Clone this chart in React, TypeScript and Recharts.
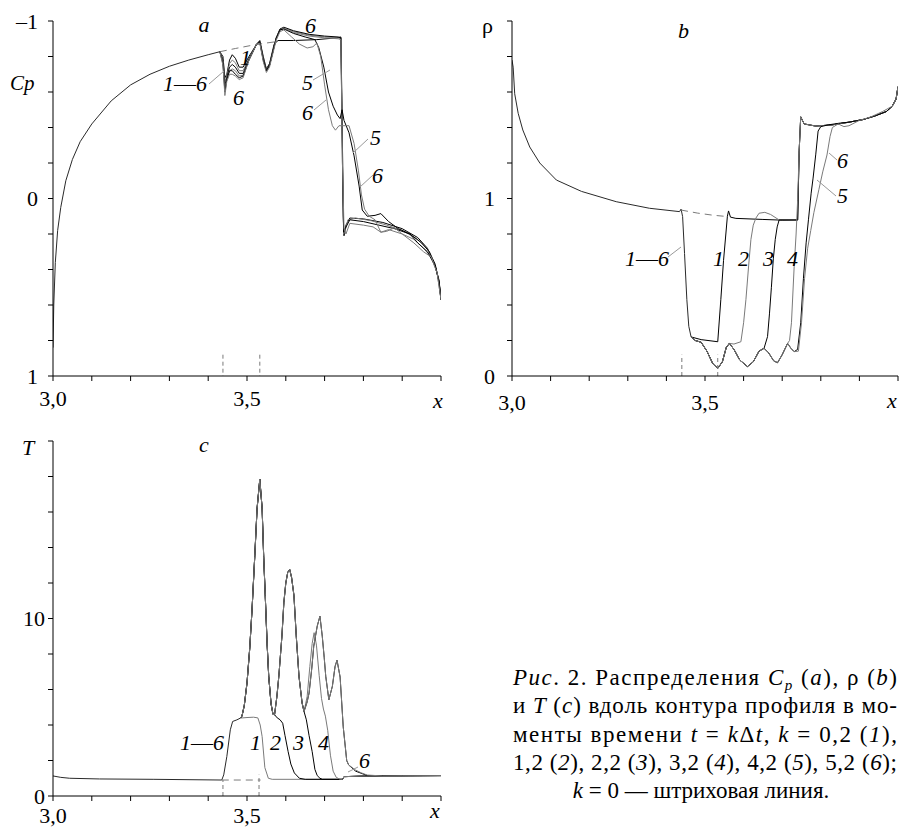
import React from 'react';
import { LineChart, Line, XAxis, YAxis } from 'recharts';

type P = [number, number][];

// ---------- common x axis ----------
const xTicks = [3.0, 3.1, 3.2, 3.3, 3.4, 3.5, 3.6, 3.7, 3.8, 3.9, 4.0];
const xTickLabels: Record<string, string> = { '3': '3,0', '3.5': '3,5' };

// ---------- panel a : Cp ----------
const cpTicks = [-1, -0.8, -0.6, -0.4, -0.2, 0, 0.2, 0.4, 0.6, 0.8, 1];
const cpTickLabels: Record<string, string> = { '-1': '\u20131', '0': '0', '1': '1' };
const cpCommon: P = [[3.0,0.84],[3.002,0.6],[3.006,0.36],[3.012,0.18],[3.02,0.05],[3.033,-0.1],[3.05,-0.22],[3.07,-0.32],[3.1,-0.42],[3.15,-0.55],[3.2,-0.64],[3.25,-0.7],[3.3,-0.745],[3.35,-0.78],[3.4,-0.81],[3.43,-0.827]];
const cpK0: P = [[3.43,-0.827],[3.47,-0.845],[3.51,-0.862],[3.55,-0.876],[3.58,-0.885]];
const cp1: P = [[3.43,-0.827],[3.438,-0.8],[3.443,-0.68],[3.448,-0.7],[3.455,-0.78],[3.462,-0.81],[3.47,-0.79],[3.48,-0.74],[3.49,-0.74],[3.505,-0.8],[3.525,-0.87],[3.533,-0.89],[3.542,-0.8],[3.55,-0.73],[3.558,-0.76],[3.57,-0.87],[3.58,-0.89],[3.62,-0.89],[3.68,-0.895],[3.73,-0.905],[3.742,-0.91],[3.745,-0.5],[3.748,0.1],[3.75,0.21],[3.755,0.15],[3.765,0.11],[3.8,0.115],[3.85,0.135],[3.9,0.17],[3.94,0.22],[3.965,0.28],[3.985,0.38],[3.995,0.46],[4.0,0.57]];
const cp2: P = [[3.43,-0.827],[3.438,-0.79],[3.443,-0.66],[3.448,-0.69],[3.455,-0.76],[3.462,-0.78],[3.47,-0.765],[3.48,-0.72],[3.49,-0.72],[3.505,-0.79],[3.525,-0.87],[3.533,-0.885],[3.542,-0.79],[3.55,-0.725],[3.558,-0.75],[3.575,-0.9],[3.585,-0.95],[3.595,-0.96],[3.62,-0.94],[3.66,-0.92],[3.7,-0.91],[3.735,-0.905],[3.742,-0.9],[3.746,-0.3],[3.749,0.2],[3.752,0.19],[3.76,0.12],[3.78,0.11],[3.82,0.125],[3.86,0.15],[3.9,0.18],[3.94,0.23],[3.965,0.285],[3.985,0.38],[3.995,0.47],[4.0,0.57]];
const cp3: P = [[3.43,-0.827],[3.438,-0.78],[3.443,-0.64],[3.448,-0.68],[3.455,-0.74],[3.462,-0.755],[3.47,-0.74],[3.48,-0.705],[3.49,-0.705],[3.505,-0.785],[3.525,-0.87],[3.533,-0.885],[3.542,-0.785],[3.55,-0.722],[3.558,-0.75],[3.575,-0.905],[3.585,-0.955],[3.595,-0.965],[3.62,-0.945],[3.66,-0.925],[3.7,-0.915],[3.735,-0.91],[3.742,-0.905],[3.746,-0.2],[3.749,0.19],[3.753,0.17],[3.765,0.12],[3.8,0.13],[3.84,0.15],[3.88,0.17],[3.92,0.2],[3.95,0.25],[3.97,0.3],[3.985,0.37],[3.995,0.47],[4.0,0.57]];
const cp4: P = [[3.43,-0.827],[3.438,-0.77],[3.443,-0.62],[3.448,-0.67],[3.455,-0.72],[3.462,-0.73],[3.47,-0.72],[3.48,-0.69],[3.49,-0.695],[3.505,-0.78],[3.525,-0.87],[3.533,-0.88],[3.542,-0.78],[3.55,-0.72],[3.558,-0.75],[3.575,-0.9],[3.585,-0.95],[3.595,-0.96],[3.62,-0.935],[3.66,-0.915],[3.7,-0.905],[3.735,-0.9],[3.742,-0.895],[3.746,-0.2],[3.75,0.17],[3.755,0.2],[3.765,0.14],[3.8,0.15],[3.825,0.16],[3.845,0.19],[3.865,0.175],[3.9,0.2],[3.93,0.23],[3.955,0.28],[3.975,0.33],[3.99,0.42],[4.0,0.57]];
const cp5: P = [[3.43,-0.827],[3.438,-0.76],[3.443,-0.6],[3.448,-0.67],[3.455,-0.72],[3.462,-0.72],[3.47,-0.7],[3.48,-0.68],[3.49,-0.69],[3.505,-0.78],[3.525,-0.87],[3.533,-0.88],[3.542,-0.78],[3.55,-0.72],[3.558,-0.75],[3.575,-0.9],[3.585,-0.95],[3.595,-0.955],[3.62,-0.93],[3.65,-0.91],[3.675,-0.895],[3.685,-0.85],[3.698,-0.74],[3.71,-0.6],[3.722,-0.52],[3.733,-0.47],[3.74,-0.45],[3.745,-0.5],[3.75,-0.44],[3.763,-0.37],[3.776,-0.24],[3.789,-0.07],[3.797,0.065],[3.81,0.1],[3.83,0.095],[3.845,0.085],[3.865,0.13],[3.89,0.17],[3.92,0.2],[3.94,0.25],[3.965,0.3],[3.985,0.38],[3.995,0.47],[4.0,0.57]];
const cp6: P = [[3.43,-0.827],[3.438,-0.75],[3.443,-0.58],[3.448,-0.66],[3.455,-0.7],[3.462,-0.7],[3.47,-0.69],[3.48,-0.67],[3.49,-0.68],[3.505,-0.78],[3.525,-0.87],[3.533,-0.875],[3.542,-0.77],[3.55,-0.71],[3.558,-0.74],[3.575,-0.89],[3.585,-0.94],[3.595,-0.95],[3.615,-0.91],[3.635,-0.87],[3.655,-0.848],[3.67,-0.855],[3.68,-0.876],[3.69,-0.8],[3.7,-0.64],[3.71,-0.5],[3.72,-0.41],[3.728,-0.385],[3.737,-0.41],[3.75,-0.41],[3.763,-0.41],[3.776,-0.31],[3.787,-0.16],[3.795,-0.02],[3.803,0.06],[3.815,0.1],[3.83,0.12],[3.845,0.19],[3.86,0.185],[3.88,0.165],[3.9,0.2],[3.93,0.25],[3.955,0.3],[3.975,0.33],[3.99,0.42],[4.0,0.57]];
const cpMarkL: P = [[3.438,0.88],[3.438,1]];
const cpMarkR: P = [[3.533,0.88],[3.533,1]];

// ---------- panel b : rho ----------
const rhoTicks = [0, 0.2, 0.4, 0.6, 0.8, 1, 1.2, 1.4, 1.6, 1.8, 2];
const rhoTickLabels: Record<string, string> = { '0': '0', '1': '1' };
const rhoCommon: P = [[3.0,1.78],[3.003,1.74],[3.007,1.59],[3.016,1.48],[3.028,1.386],[3.046,1.29],[3.072,1.2],[3.115,1.104],[3.18,1.04],[3.27,0.982],[3.356,0.945],[3.434,0.926],[3.438,0.94],[3.442,0.898],[3.447,0.69],[3.453,0.43],[3.458,0.28],[3.464,0.22]];
const rhoK0: P = [[3.438,0.935],[3.48,0.918],[3.52,0.906],[3.559,0.898]];
const rhoTail: P = [[3.744,1.27],[3.748,1.46],[3.757,1.42],[3.787,1.408],[3.83,1.415],[3.873,1.43],[3.91,1.445],[3.94,1.465],[3.97,1.49],[3.985,1.52],[3.995,1.56],[4.0,1.63]];
const rho1Head: P = [[3.464,0.22],[3.49,0.205],[3.533,0.193],[3.541,0.43],[3.548,0.65],[3.554,0.8],[3.558,0.9],[3.561,0.93],[3.566,0.895],[3.58,0.888],[3.65,0.882],[3.7,0.878],[3.74,0.879]];
const rhoOscA: P = [[3.464,0.22],[3.475,0.2],[3.49,0.19],[3.505,0.14],[3.52,0.07],[3.533,0.043],[3.545,0.08],[3.555,0.16],[3.563,0.184]];
const rho2Mid: P = [[3.575,0.18],[3.593,0.193],[3.6,0.3],[3.606,0.43],[3.613,0.62],[3.619,0.77],[3.625,0.85],[3.632,0.89],[3.64,0.917],[3.655,0.922],[3.67,0.91],[3.69,0.882],[3.74,0.879]];
const rhoOscB: P = [[3.575,0.15],[3.59,0.09],[3.61,0.053],[3.625,0.08],[3.64,0.14],[3.653,0.156]];
const rho3Mid: P = [[3.662,0.222],[3.667,0.35],[3.672,0.5],[3.677,0.66],[3.682,0.77],[3.687,0.84],[3.692,0.879],[3.74,0.879]];
const rhoOscC: P = [[3.665,0.13],[3.678,0.085],[3.688,0.075],[3.7,0.12],[3.714,0.184]];
const rho4Mid: P = [[3.719,0.2],[3.724,0.3],[3.731,0.616],[3.736,0.8],[3.74,0.99]];
const rhoOscD: P = [[3.723,0.155],[3.731,0.137]];
const rho5Tail: P = [[3.74,0.15],[3.748,0.3],[3.755,0.55],[3.762,0.75],[3.768,0.88],[3.775,1.03],[3.78,1.115],[3.787,1.25],[3.793,1.38],[3.8,1.405],[3.82,1.415],[3.85,1.425],[3.873,1.43],[3.91,1.445],[3.94,1.465],[3.97,1.49],[3.985,1.52],[3.995,1.56],[4.0,1.63]];
const rho6Tail: P = [[3.742,0.14],[3.75,0.3],[3.758,0.55],[3.766,0.72],[3.774,0.82],[3.782,0.92],[3.795,1.05],[3.805,1.15],[3.816,1.245],[3.824,1.35],[3.83,1.4],[3.845,1.42],[3.86,1.405],[3.873,1.41],[3.9,1.44],[3.93,1.46],[3.96,1.49],[3.985,1.52],[3.995,1.56],[4.0,1.63]];
const rhoMarkL: P = [[3.44,0],[3.44,0.12]];
const rhoMarkR: P = [[3.533,0],[3.533,0.12]];

// ---------- panel c : T ----------
const tTicks = [0, 2, 4, 6, 8, 10, 12, 14, 16, 18, 20];
const tTickLabels: Record<string, string> = { '0': '0', '10': '10' };
const tCommon: P = [[3.0,1.13],[3.02,1.05],[3.043,1.0],[3.12,0.96],[3.26,0.94],[3.435,0.9],[3.44,1.19],[3.448,2.22],[3.457,3.73],[3.463,4.2],[3.474,4.29],[3.483,4.39]];
const tK0: P = [[3.435,0.9],[3.535,0.9]];
const tTail: P = [[3.746,0.94],[3.75,1.09],[3.81,1.13],[3.9,1.14],[4.0,1.15]];
const t1Head: P = [[3.483,4.39],[3.5,4.42],[3.517,4.44],[3.528,4.4],[3.534,4.0],[3.539,3.35],[3.546,1.6],[3.555,1.0],[3.565,0.94],[3.65,0.94]];
const tPeak1: P = [[3.483,4.39],[3.487,4.5],[3.493,5.1],[3.5,6.37],[3.507,8.3],[3.513,10.5],[3.52,13.5],[3.526,16.2],[3.533,17.85],[3.539,16.2],[3.543,13.5],[3.547,11.3],[3.552,8.5],[3.556,6.74],[3.562,5.2],[3.567,4.6],[3.571,4.58]];
const t2Mid: P = [[3.578,4.4],[3.585,4.3],[3.592,4.1],[3.598,3.4],[3.606,2.5],[3.613,1.8],[3.622,1.3],[3.635,1.0],[3.65,0.94]];
const tPeak2: P = [[3.577,5.6],[3.582,6.74],[3.59,9.0],[3.595,10.9],[3.6,12.0],[3.605,12.6],[3.61,12.77],[3.615,12.3],[3.621,11.3],[3.627,9.0],[3.634,6.74],[3.642,5.24],[3.647,4.76]];
const t3Mid: P = [[3.653,4.29],[3.66,3.4],[3.668,2.5],[3.675,1.5],[3.681,1.15],[3.688,1.0],[3.694,0.94]];
const t4Mid: P = [[3.655,5.6],[3.662,7.3],[3.668,8.6],[3.673,9.2],[3.679,8.5],[3.686,6.8],[3.692,5.5],[3.697,4.9],[3.702,4.5],[3.708,3.7],[3.715,2.3],[3.722,1.4],[3.73,1.05],[3.74,0.94]];
const tPeak3: P = [[3.655,5.3],[3.66,5.8],[3.667,7.2],[3.672,8.44],[3.681,9.57],[3.688,10.13],[3.694,9.0],[3.699,7.8],[3.703,6.74],[3.711,5.42]];
const tPeak4: P = [[3.72,6.18],[3.727,7.3],[3.732,7.65],[3.74,6.7],[3.748,3.9],[3.757,2.0],[3.762,1.75]];
const t5Tail: P = [[3.78,1.4],[3.81,1.15],[3.9,1.14],[4.0,1.15]];
const t6Tail: P = [[3.78,1.46],[3.795,1.3],[3.81,1.18],[3.85,1.13],[3.9,1.14],[4.0,1.15]];
const tMarkL: P = [[3.438,0],[3.438,0.9]];
const tMarkR: P = [[3.531,0],[3.531,1.2]];

// ---------- drawing ----------
const BLACK = '#000';
const GRAY = '#7a7a7a';
const DARK = '#2a2a2a';
const FONT = 'Liberation Serif';
const FONT_CSS = "'Liberation Serif', 'Times New Roman', Tinos, 'Nimbus Roman', FreeSerif, serif";

type S = { pts: P; color: string; dash?: string; w?: number };

const toData = (p: P) => p.map(([x, y]) => ({ x, y }));

const seriesA: S[] = [
  { pts: cpCommon, color: DARK },
  { pts: cpK0, color: GRAY, dash: '7 5' },
  { pts: cp1, color: BLACK },
  { pts: cp2, color: GRAY },
  { pts: cp3, color: BLACK },
  { pts: cp4, color: GRAY },
  { pts: cp5, color: BLACK },
  { pts: cp6, color: GRAY },
  { pts: cpMarkL, color: GRAY, dash: '4 3' },
  { pts: cpMarkR, color: GRAY, dash: '4 3' },
];

const seriesB: S[] = [
  { pts: rhoCommon, color: DARK },
  { pts: rhoK0, color: GRAY, dash: '7 5' },
  { pts: [...rho1Head, ...rhoTail], color: BLACK },
  { pts: [...rhoOscA, ...rho2Mid, ...rhoTail], color: GRAY },
  { pts: [...rhoOscA, ...rhoOscB, ...rho3Mid, ...rhoTail], color: BLACK },
  { pts: [...rhoOscA, ...rhoOscB, ...rhoOscC, ...rho4Mid, ...rhoTail], color: GRAY },
  { pts: [...rhoOscA, ...rhoOscB, ...rhoOscC, ...rhoOscD, ...rho5Tail], color: BLACK },
  { pts: [...rhoOscA, ...rhoOscB, ...rhoOscC, ...rhoOscD, ...rho6Tail], color: GRAY },
  { pts: rhoMarkL, color: GRAY, dash: '4 3' },
  { pts: rhoMarkR, color: GRAY, dash: '4 3' },
];

const seriesC: S[] = [
  { pts: tCommon, color: DARK },
  { pts: tK0, color: GRAY, dash: '7 5' },
  { pts: [...t1Head, ...tTail], color: GRAY },
  { pts: [...tPeak1, ...t2Mid, ...tTail], color: BLACK },
  { pts: [...tPeak1, ...tPeak2, ...t3Mid, ...tTail], color: BLACK },
  { pts: [...tPeak1, ...tPeak2, ...t4Mid, ...tTail], color: GRAY },
  { pts: [...tPeak1, ...tPeak2, ...tPeak3, ...tPeak4, ...t5Tail], color: BLACK },
  { pts: [...tPeak1, ...tPeak2, ...tPeak3, ...tPeak4, ...t6Tail], color: GRAY },
  { pts: tMarkL, color: GRAY, dash: '4 3' },
  { pts: tMarkR, color: GRAY, dash: '4 3' },
];

type PanelProps = {
  left: number; top: number; width: number; height: number;
  margin: { top: number; right: number; bottom: number; left: number };
  yDomain: [number, number]; yTicks: number[]; yLabels: Record<string, string>;
  reversed?: boolean; series: S[]; yTickMargin: number; xTickMargin: number;
};

const AX_H = 30;
const AX_W = 40;

function Panel(p: PanelProps) {
  const tickStyle = { fontSize: 22, fill: '#000', fontFamily: FONT };
  return (
    <div style={{ position: 'absolute', left: p.left, top: p.top }}>
      <LineChart width={p.width} height={p.height} margin={p.margin}>
        <XAxis
          type="number" dataKey="x" domain={[3, 4]} ticks={xTicks} allowDataOverflow
          tickFormatter={(v: number) => xTickLabels[String(v)] ?? ''}
          height={AX_H} tickSize={5} tickMargin={p.xTickMargin}
          stroke="#000" tickLine={{ stroke: '#000' }} axisLine={{ stroke: '#000' }}
          tick={tickStyle} interval={0}
        />
        <YAxis
          type="number" dataKey="y" domain={p.yDomain} ticks={p.yTicks} allowDataOverflow
          reversed={p.reversed}
          tickFormatter={(v: number) => p.yLabels[String(v)] ?? ''}
          width={AX_W} tickSize={5} tickMargin={p.yTickMargin}
          stroke="#000" tickLine={{ stroke: '#000' }} axisLine={{ stroke: '#000' }}
          tick={tickStyle} interval={0}
        />
        {p.series.map((s, i) => (
          <Line
            key={i} data={toData(s.pts)} dataKey="y" type="linear"
            stroke={s.color} strokeWidth={s.w ?? 1} strokeDasharray={s.dash}
            dot={false} activeDot={false} isAnimationActive={false}
          />
        ))}
      </LineChart>
    </div>
  );
}

const It = ({ children }: { children: React.ReactNode }) => <tspan fontStyle="italic">{children}</tspan>;

function Overlay() {
  const t = { fontFamily: FONT, fontSize: 22, fill: '#000' } as const;
  const lead = { stroke: '#999', strokeWidth: 1 } as const;
  const cap = { fontFamily: FONT, fontSize: 23, fill: '#000' } as const;
  return (
    <svg width={899} height={831} style={{ position: 'absolute', left: 0, top: 0, pointerEvents: 'none' }}>
      {/* panel a */}
      <text {...t} x={10} y={90} fontSize={21} fontStyle="italic">Cp</text>
      <text {...t} x={204} y={32} fontStyle="italic" textAnchor="middle">a</text>
      <text {...t} x={163} y={91}><It>1</It>—<It>6</It></text>
      <line {...lead} x1={209} y1={84} x2={224} y2={71} />
      <text {...t} x={240} y={65} fontStyle="italic">1</text>
      <text {...t} x={233} y={105} fontStyle="italic">6</text>
      <text {...t} x={305} y={33} fontStyle="italic">6</text>
      <text {...t} x={302} y={90} fontStyle="italic">5</text>
      <line {...lead} x1={313} y1={80} x2={330} y2={70} />
      <text {...t} x={302} y={120} fontStyle="italic">6</text>
      <line {...lead} x1={314} y1={110} x2={326} y2={100} />
      <text {...t} x={370} y={145} fontStyle="italic">5</text>
      <line {...lead} x1={353} y1={153} x2={368} y2={139} />
      <text {...t} x={372} y={183} fontStyle="italic">6</text>
      <line {...lead} x1={360} y1={187} x2={373} y2={175} />
      <text {...t} x={433} y={408} fontStyle="italic">x</text>

      {/* panel b */}
      <text {...t} x={482} y={33}>ρ</text>
      <text {...t} x={678} y={38} fontStyle="italic">b</text>
      <text {...t} x={625} y={266}><It>1</It>—<It>6</It></text>
      <line {...lead} x1={668} y1={257} x2={681} y2={247} />
      <text {...t} x={713} y={266} fontStyle="italic">1</text>
      <text {...t} x={738} y={266} fontStyle="italic">2</text>
      <text {...t} x={763} y={266} fontStyle="italic">3</text>
      <text {...t} x={787} y={266} fontStyle="italic">4</text>
      <text {...t} x={837} y={168} fontStyle="italic">6</text>
      <line {...lead} x1={829} y1={153} x2={837} y2={160} />
      <text {...t} x={837} y={203} fontStyle="italic">5</text>
      <line {...lead} x1={817} y1={180} x2={836} y2={196} />
      <text {...t} x={887} y={408} fontStyle="italic">x</text>

      {/* panel c */}
      <text {...t} x={22} y={455} fontStyle="italic">T</text>
      <text {...t} x={199} y={452} fontStyle="italic">c</text>
      <text {...t} x={180} y={750}><It>1</It>—<It>6</It></text>
      <text {...t} x={250} y={750} fontStyle="italic">1</text>
      <text {...t} x={270} y={750} fontStyle="italic">2</text>
      <text {...t} x={293} y={750} fontStyle="italic">3</text>
      <text {...t} x={318} y={750} fontStyle="italic">4</text>
      <text {...t} x={359} y={768} fontStyle="italic">6</text>
      <line {...lead} x1={348} y1={772} x2={358} y2={767} />
      <text {...t} x={430} y={818} fontStyle="italic">x</text>

      {/* caption */}
      <text {...cap} x={513} y={685} textLength={384} lengthAdjust="spacing">
        <It>Рис</It>{'. 2. Распределения '}<It>C</It><tspan fontStyle="italic" fontSize={15} dy={5}>p</tspan><tspan dy={-5}>{' ('}</tspan><It>a</It>{'), ρ  ('}<It>b</It>{')'}
      </text>
      <text {...cap} x={513} y={713} textLength={384} lengthAdjust="spacing">
        {'и '}<It>T</It>{' ('}<It>c</It>{') вдоль контура профиля в мо-'}
      </text>
      <text {...cap} x={513} y={742} textLength={384} lengthAdjust="spacing">
        {'менты  времени  '}<It>t</It>{' = '}<It>k</It>{'Δ'}<It>t</It>{',  '}<It>k</It>{' = 0,2  ('}<It>1</It>{'),'}
      </text>
      <text {...cap} x={513} y={770} textLength={384} lengthAdjust="spacing">
        {'1,2 ('}<It>2</It>{'), 2,2 ('}<It>3</It>{'), 3,2 ('}<It>4</It>{'), 4,2 ('}<It>5</It>{'), 5,2 ('}<It>6</It>{');'}
      </text>
      <text {...cap} x={701} y={798} textAnchor="middle">
        <It>k</It>{' = 0 — штриховая линия.'}
      </text>
    </svg>
  );
}

export default function App() {
  return (
    <div style={{ position: 'absolute', left: 0, top: 0, width: 899, height: 831, background: '#fff', fontFamily: FONT_CSS }}>
      <style>{`text, tspan { font-family: ${FONT_CSS} !important; }`}</style>
      <Panel left={0} top={0} width={450} height={420}
        margin={{ top: 21, right: 9, bottom: 44 - AX_H, left: 53 - AX_W }}
        yDomain={[-1, 1]} yTicks={cpTicks} yLabels={cpTickLabels} reversed
        series={seriesA} yTickMargin={10} xTickMargin={9} />
      <Panel left={450} top={0} width={449} height={420}
        margin={{ top: 21, right: 1, bottom: 44 - AX_H, left: 62 - AX_W }}
        yDomain={[0, 2]} yTicks={rhoTicks} yLabels={rhoTickLabels}
        series={seriesB} yTickMargin={12} xTickMargin={13} />
      <Panel left={0} top={420} width={450} height={411}
        margin={{ top: 21, right: 9, bottom: 35 - AX_H, left: 53 - AX_W }}
        yDomain={[0, 20]} yTicks={tTicks} yLabels={tTickLabels}
        series={seriesC} yTickMargin={3} xTickMargin={6} />
      <Overlay />
    </div>
  );
}
